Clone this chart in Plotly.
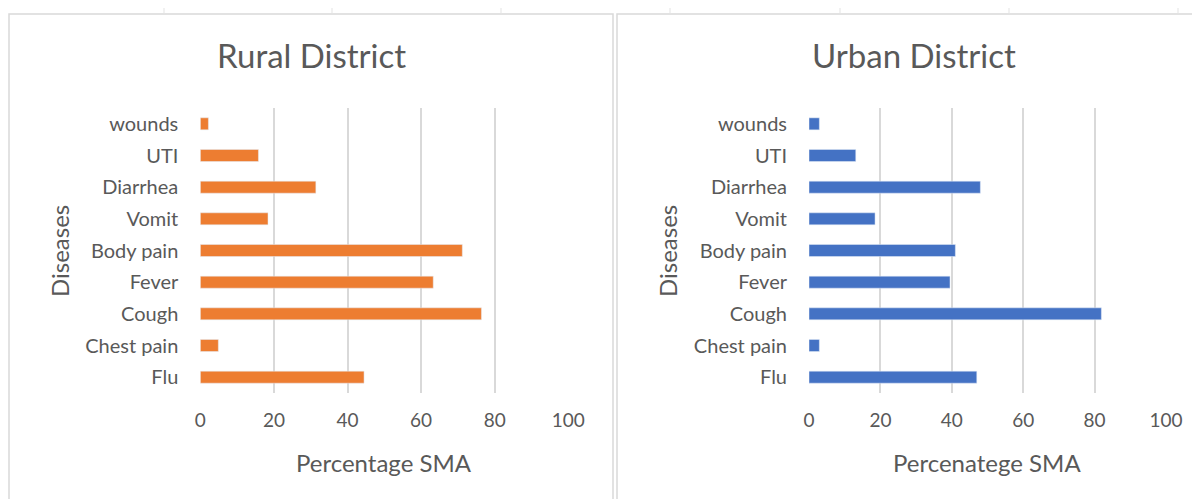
import plotly.graph_objects as go

diseases = ["Flu", "Chest pain", "Cough", "Fever", "Body pain", "Vomit", "Diarrhea", "UTI", "wounds"]
rural_sma = [44.5, 4.9, 76.4, 63.3, 71.2, 18.4, 31.4, 15.8, 2.2]
urban_sma = [47.0, 2.9, 81.9, 39.5, 41.0, 18.5, 48.0, 13.1, 2.9]
x_ticks = [0, 20, 40, 60, 80, 100]

W, H = 1200, 499
OFF = 8  # page body margin
FONT = "Lato"
GREY = "#595959"
GRID = "#d9d9d9"


def px(x):
    return (x - OFF) / W


def py(y):
    return 1 - (y - OFF) / H


fig = go.Figure()
fig.add_trace(go.Bar(y=diseases, x=rural_sma, orientation="h", marker_color="#ED7D31",
                     width=0.38, xaxis="x", yaxis="y", showlegend=False))
fig.add_trace(go.Bar(y=diseases, x=urban_sma, orientation="h", marker_color="#4472C4",
                     width=0.38, xaxis="x2", yaxis="y2", showlegend=False))

ydom = [py(393), py(108)]
xcommon = dict(range=[0, 100], tickvals=x_ticks, showgrid=True, gridcolor=GRID, gridwidth=1.5,
               zeroline=False, showline=False, ticks="", ticklabelstandoff=14, automargin=False,
               tickfont=dict(family=FONT, size=19, color=GREY))
ycommon = dict(showgrid=False, zeroline=False, showline=False, ticks="", ticklabelstandoff=21,
               automargin=False, tickfont=dict(family=FONT, size=20, color=GREY),
               categoryorder="array", categoryarray=diseases)

fig.update_layout(
    width=W, height=H,
    margin=dict(l=0, r=0, t=0, b=0, autoexpand=False),
    paper_bgcolor="white", plot_bgcolor="white",
    xaxis=dict(domain=[px(200.3), px(568.3)], anchor="y", **xcommon),
    yaxis=dict(domain=ydom, anchor="x", **ycommon),
    xaxis2=dict(domain=[px(809), px(1166)], anchor="y2", **xcommon),
    yaxis2=dict(domain=ydom, anchor="x2", **ycommon),
)

# chart boxes
box = dict(type="rect", xref="paper", yref="paper", line=dict(color=GRID, width=1.5),
           fillcolor="rgba(0,0,0,0)", layer="below")
fig.add_shape(x0=px(9), x1=px(613), y0=0, y1=py(14), **box)
fig.add_shape(x0=px(617), x1=1.0, y0=0, y1=py(14), **box)

# faint sheet gridline marks outside the boxes
for xv in [164, 332, 501, 670, 840, 1009, 1178]:
    fig.add_shape(type="line", xref="paper", yref="paper", x0=px(xv), x1=px(xv),
                  y0=py(8), y1=py(14), line=dict(color="#e3e3e3", width=1))
for yv in [32, 72, 113, 153, 193, 233, 274, 314, 354, 395, 435, 475]:
    fig.add_shape(type="line", xref="paper", yref="paper", x0=0, x1=px(9),
                  y0=py(yv), y1=py(yv), line=dict(color="#e3e3e3", width=1))

ann = dict(xref="paper", yref="paper", showarrow=False, xanchor="center", yanchor="middle")
fig.add_annotation(x=px(311), y=py(55), text="Rural District",
                   font=dict(family=FONT, size=33, color=GREY), **ann)
fig.add_annotation(x=px(914), y=py(55), text="Urban District",
                   font=dict(family=FONT, size=33, color=GREY), **ann)
fig.add_annotation(x=px(384), y=py(462), text="Percentage SMA",
                   font=dict(family=FONT, size=24, color=GREY), **ann)
fig.add_annotation(x=px(987), y=py(462), text="Percenatege SMA",
                   font=dict(family=FONT, size=24, color=GREY), **ann)
fig.add_annotation(x=px(60), y=py(251), text="Diseases", textangle=-90,
                   font=dict(family=FONT, size=24, color=GREY), **ann)
fig.add_annotation(x=px(668), y=py(251), text="Diseases", textangle=-90,
                   font=dict(family=FONT, size=24, color=GREY), **ann)

fig.write_html("out.html")
